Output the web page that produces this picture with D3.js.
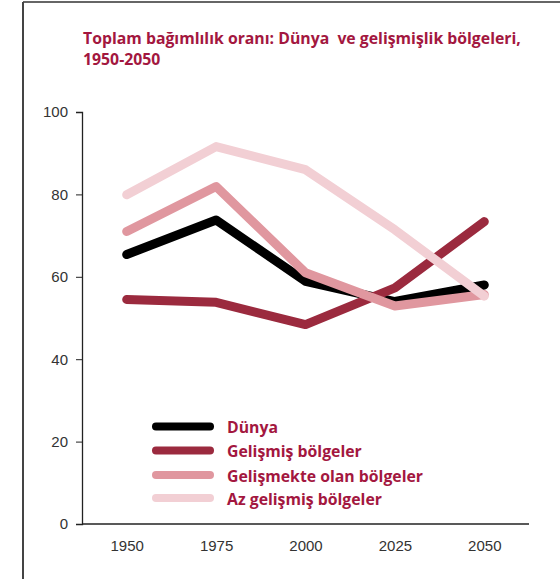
<!DOCTYPE html>
<html>
<head>
<meta charset="utf-8">
<script src="https://cdn.jsdelivr.net/npm/d3@7"></script>
<style>
  html, body { margin: 0; padding: 0; background: #fff; }
  svg { display: block; }
</style>
</head>
<body>
<svg id="chart" width="560" height="579"></svg>
<script>
// Total dependency ratio by development region, 1950-2050
const years = ["1950", "1975", "2000", "2025", "2050"];
const dunya = [65.4, 73.8, 58.9, 54.0, 58.0];
const gelismis = [54.5, 53.8, 48.4, 57.3, 73.4];
const gelismekte = [71.0, 81.9, 61.0, 52.9, 55.7];
const azGelismis = [79.9, 91.6, 86.0, 71.4, 55.3];
const seriesNames = ["Dünya", "Gelişmiş bölgeler", "Gelişmekte olan bölgeler", "Az gelişmiş bölgeler"];
const yTicks = [0, 20, 40, 60, 80, 100];

const colors = ["#000000", "#9b2a3e", "#e0979f", "#f2cfd4"];
const seriesValues = [dunya, gelismis, gelismekte, azGelismis];

const svg = d3.select("#chart");
const plotLeft = 82, plotRight = 529, plotTop = 112, plotBottom = 524;
const labelFont = "'Open Sans', Lato, sans-serif";
const axisFont = "'Liberation Sans', Arial, sans-serif";

// frame lines
svg.append("line").attr("x1", 23).attr("y1", 2).attr("x2", 560).attr("y2", 2)
  .attr("stroke", "#666").attr("stroke-width", 2);
svg.append("line").attr("x1", 23).attr("y1", 2).attr("x2", 23).attr("y2", 579)
  .attr("stroke", "#444").attr("stroke-width", 2);

// title
const title = svg.append("text")
  .attr("font-family", labelFont).attr("xml:space", "preserve")
  .style("white-space", "pre")
  .attr("font-weight", "bold").attr("font-size", 15.8).attr("fill", "#a3173f");
title.append("tspan").attr("x", 83).attr("y", 44).text("Toplam bağımlılık oranı: Dünya  ve gelişmişlik bölgeleri,");
title.append("tspan").attr("x", 83).attr("y", 65).text("1950-2050");

const x = d3.scalePoint().domain(years).range([plotLeft, plotRight]).padding(0.5);
const y = d3.scaleLinear().domain([0, 100]).range([plotBottom, plotTop]);

// y axis
const yAxis = svg.append("g").attr("transform", `translate(${plotLeft},0)`)
  .call(d3.axisLeft(y).tickValues(yTicks).tickSize(6).tickPadding(8));
yAxis.select(".domain").attr("stroke", "#222").attr("stroke-width", 1.3);
yAxis.selectAll(".tick line").attr("stroke", "#222");
yAxis.selectAll("text").attr("font-family", axisFont)
  .attr("font-size", 15).attr("fill", "#333");

// x axis
const xAxis = svg.append("g").attr("transform", `translate(0,${plotBottom})`)
  .call(d3.axisBottom(x).tickSize(0).tickPadding(16));
xAxis.select(".domain").attr("d", `M${plotLeft},0H${plotRight}`).attr("stroke", "#222").attr("stroke-width", 1.3);
xAxis.selectAll("text").attr("font-family", axisFont)
  .attr("font-size", 15).attr("fill", "#333");

// lines
const line = d3.line().x((d, i) => x(years[i])).y(d => y(d));
seriesValues.forEach((vals, i) => {
  svg.append("path").datum(vals)
    .attr("d", line)
    .attr("fill", "none")
    .attr("stroke", colors[i])
    .attr("stroke-width", 9)
    .attr("stroke-linecap", "round")
    .attr("stroke-linejoin", "round");
});

// legend
const legendY = [426.5, 450.5, 475, 498];
const legend = svg.append("g");
seriesNames.forEach((name, i) => {
  legend.append("line")
    .attr("x1", 156).attr("x2", 210)
    .attr("y1", legendY[i]).attr("y2", legendY[i])
    .attr("stroke", colors[i]).attr("stroke-width", 8).attr("stroke-linecap", "round");
  legend.append("text")
    .attr("x", 227).attr("y", legendY[i] + 6.5)
    .attr("font-family", labelFont)
    .attr("font-weight", "bold").attr("font-size", 15.8).attr("fill", "#a3173f")
    .text(name);
});
</script>
</body>
</html>
